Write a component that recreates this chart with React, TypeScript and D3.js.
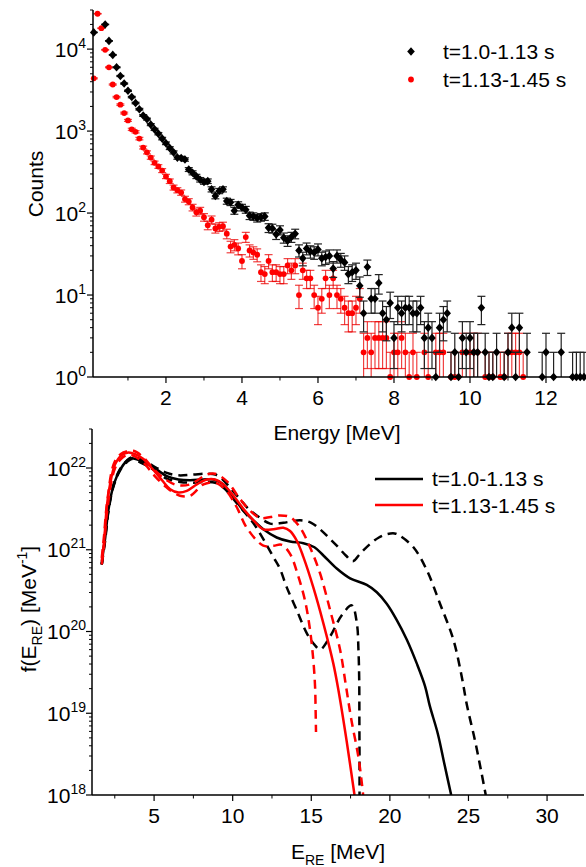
import React from 'react';
import * as d3 from 'd3';

// ---------------- DATA ----------------
const energyBins = [
  0.1, 0.2, 0.3, 0.4, 0.5, 0.6, 0.7, 0.8, 0.9, 1.0,
  1.1, 1.2, 1.3, 1.4, 1.5, 1.6, 1.7, 1.8, 1.9, 2.0,
  2.1, 2.2, 2.3, 2.4, 2.5, 2.6, 2.7, 2.8, 2.9, 3.0,
  3.1, 3.2, 3.3, 3.4, 3.5, 3.6, 3.7, 3.8, 3.9, 4.0,
  4.1, 4.2, 4.3, 4.4, 4.5, 4.6, 4.7, 4.8, 4.9, 5.0,
  5.1, 5.2, 5.3, 5.4, 5.5, 5.6, 5.7, 5.8, 5.9, 6.0,
  6.1, 6.2, 6.3, 6.4, 6.5, 6.6, 6.7, 6.8, 6.9, 7.0,
  7.1, 7.2, 7.3, 7.4, 7.5, 7.6, 7.7, 7.8, 7.9, 8.0,
  8.1, 8.2, 8.3, 8.4, 8.5, 8.6, 8.7, 8.8, 8.9, 9.0,
  9.1, 9.2, 9.3, 9.4, 9.5, 9.6, 9.7, 9.8, 9.9, 10.0,
  10.1, 10.2, 10.3, 10.4, 10.5, 10.6, 10.7, 10.8, 10.9, 11.0,
  11.1, 11.2, 11.3, 11.4, 11.5, 11.6, 11.7, 11.8, 11.9, 12.0,
  12.1, 12.2, 12.3, 12.4, 12.5, 12.6, 12.7, 12.8, 12.9, 13.0,
];

// counts, t = 1.0-1.13 s (null = not shown)
const countsEarly: (number | null)[] = [
  16000, null, null, 20000, 12600, 8500, 6000, 4700, 3800, 3100,
  2600, 2200, 1850, 1550, 1400, 1200, 1050, 930, 810, 710,
  620, 550, 475, 470, 450, 340, 310, 280, 255, 240,
  245, 195, 162, 186, 195, 140, 135, 107, 126, 117,
  110, 93, 91, 87, 89, 91, 66, 65, 55, 62,
  50, 46, 51, 56, 35, 28, 37, 34, 33, 36,
  28, 29, 30, 21, 30, 27, 25, 18, 19, 20,
  13, 6, 22, 9, 9, 14, 6, 5, 8, 3,
  7, 6, 7, 7, 6, 6, 7, 3, 4, 3,
  1, 4, 5, 6, 1, 2, 1, 3, 2, 3,
  2, 2, 7, 2, 1, 1, 2, null, 1, 2,
  4, 1, 4, null, 2, null, null, null, 1, 2,
  null, 1, null, 2, null, null, 1, 1, 1, 1,
];

// counts, t = 1.13-1.45 s
const countsLate: (number | null)[] = [
  4400, 27000, 18000, 9800, 6000, 3700, 2600, 2100, 1660, 1350,
  1050, 980, 810, 630, 550, 475, 410, 370, 330, 280,
  245, 205, 190, 178, 148, 138, 117, 102, 107, 89,
  71, 83, 65, 68, 69, 56, 39, 41, 37, 26,
  51, 35, 33, 31, 19, 18, 26, 19, 19, 18,
  18, 23, 20, 23, 10, 20, 16, 16, 10, 7,
  9, 16, 10, 16, 10, 9, 7, 6, 6, 7,
  9, 2, 3, 2, 3, 3, 3, 3, 1, 2,
  2, 3, 2, 1, 2, 1, null, 2, 1, null,
  2, 2, 2, null, 1, 1, null, 2, null, 2,
  2, 2, null, 1, 1, 1, null, 1, 1, 2,
  2, 2, 2, 1, null, null, null, null, null, null,
  null, null, null, null, null, null, null, null, null, null,
];

const legendLabels = ['t=1.0-1.13 s', 't=1.13-1.45 s'];
const topXTicks = [2, 4, 6, 8, 10, 12];
const topXMinor = [1, 3, 5, 7, 9, 11];
const topYDecades = [0, 1, 2, 3, 4];
const bottomXTicks = [5, 10, 15, 20, 25, 30];
const bottomXMinor = [2.5, 7.5, 12.5, 17.5, 22.5, 27.5];
const bottomYDecades = [18, 19, 20, 21, 22];

// bottom panel: [E (MeV), log10 f(E)]
const earlyFit: [number, number][] = [
  [1.67, 20.82], [1.78, 21.0], [1.88, 21.13], [2.09, 21.48], [2.41, 21.78], [2.84, 21.98],
  [3.26, 22.085], [3.58, 22.12], [4.11, 22.09], [4.64, 22.04], [5.17, 21.98], [5.81, 21.9],
  [6.55, 21.86], [7.29, 21.85], [8.14, 21.86], [8.77, 21.86], [9.41, 21.8], [10.05, 21.64],
  [10.68, 21.48], [11.32, 21.36], [11.95, 21.25], [12.8, 21.15], [13.65, 21.1], [14.5, 21.08],
  [15.2, 21.03], [15.77, 20.93], [16.62, 20.77], [17.47, 20.65], [18.53, 20.57], [19.17, 20.48],
  [19.8, 20.34], [20.44, 20.14], [21.08, 19.9], [21.71, 19.61], [22.24, 19.33], [22.54, 19.09],
  [23.05, 18.75], [23.49, 18.36], [23.9, 18.0],
];
const earlyUpper: [number, number][] = [
  [1.67, 20.82], [1.88, 21.14], [2.09, 21.49], [2.41, 21.79], [2.84, 21.99], [3.26, 22.09],
  [3.58, 22.13], [4.11, 22.11], [4.64, 22.06], [5.17, 22.0], [5.81, 21.94], [6.55, 21.91],
  [7.5, 21.92], [8.35, 21.93], [8.9, 21.92], [9.41, 21.85], [10.0, 21.72], [10.47, 21.62],
  [11.0, 21.5], [11.53, 21.42], [12.38, 21.32], [13.22, 21.33], [14.29, 21.36], [15.0, 21.33],
  [15.56, 21.25], [16.1, 21.15], [16.62, 21.05], [17.2, 20.93], [17.65, 20.86], [18.1, 20.95],
  [18.74, 21.07], [19.3, 21.15], [19.8, 21.19], [20.3, 21.2], [20.65, 21.17], [21.5, 21.03],
  [22.35, 20.75], [23.19, 20.34], [24.04, 19.9], [24.57, 19.45], [24.9, 19.1], [25.4, 18.68],
  [25.8, 18.3], [26.1, 18.0],
];
const earlyLower: [number, number][] = [
  [1.67, 20.82], [1.88, 21.1], [2.09, 21.46], [2.41, 21.77], [2.84, 21.97], [3.26, 22.07],
  [3.58, 22.11], [4.11, 22.07], [4.64, 22.02], [5.17, 21.95], [5.81, 21.87], [6.65, 21.83],
  [7.5, 21.82], [8.35, 21.83], [8.9, 21.82], [9.41, 21.76], [10.3, 21.56], [11.3, 21.33],
  [11.95, 21.13], [12.59, 20.91], [13.0, 20.77], [13.44, 20.54], [14.08, 20.26], [14.71, 19.98],
  [15.2, 19.84], [15.56, 19.78], [16.2, 19.94], [16.94, 20.2], [17.58, 20.32], [17.9, 20.1],
  [18.0, 19.78], [18.05, 19.4], [18.06, 18.9], [18.07, 18.4], [18.07, 18.0],
];
const lateFit: [number, number][] = [
  [1.67, 20.86], [1.82, 21.11], [1.99, 21.52], [2.2, 21.8], [2.52, 22.045], [2.95, 22.16],
  [3.37, 22.19], [3.79, 22.17], [4.32, 22.11], [4.85, 22.0], [5.38, 21.88], [6.02, 21.74],
  [6.55, 21.7], [7.08, 21.72], [7.72, 21.8], [8.35, 21.86], [8.88, 21.86], [9.41, 21.8],
  [10.05, 21.66], [10.68, 21.5], [11.32, 21.36], [11.95, 21.25], [12.59, 21.25], [13.22, 21.27],
  [13.65, 21.23], [14.08, 21.11], [14.5, 20.91], [15.13, 20.54], [15.77, 20.1], [16.4, 19.61],
  [16.72, 19.29], [17.25, 18.66], [17.75, 18.0],
];
const lateUpper: [number, number][] = [
  [1.67, 20.9], [1.82, 21.18], [2.0, 21.56], [2.5, 22.08], [3.05, 22.19], [3.68, 22.21],
  [4.32, 22.13], [5.0, 21.98], [5.8, 21.85], [6.5, 21.79], [7.29, 21.8], [8.35, 21.92],
  [8.88, 21.93], [9.62, 21.84], [10.47, 21.62], [11.1, 21.48], [11.74, 21.39], [12.4, 21.4],
  [13.01, 21.42], [13.65, 21.4], [14.29, 21.27], [14.92, 21.03], [15.56, 20.71], [16.2, 20.26],
  [16.83, 19.78], [17.21, 19.33], [17.55, 18.92], [18.02, 18.44], [18.3, 18.0],
];
const lateLower: [number, number][] = [
  [1.67, 20.82], [1.82, 21.05], [2.0, 21.45], [2.5, 21.99], [3.0, 22.13], [3.5, 22.16],
  [4.3, 22.07], [5.0, 21.91], [5.81, 21.76], [6.65, 21.66], [7.29, 21.66], [8.14, 21.8],
  [8.9, 21.82], [9.6, 21.72], [10.26, 21.52], [10.89, 21.27], [11.95, 21.05], [12.6, 21.05],
  [13.12, 21.06], [13.65, 20.95], [14.18, 20.67], [14.6, 20.38], [14.92, 20.02], [15.13, 19.65],
  [15.24, 19.33], [15.28, 19.0], [15.3, 18.77],
];

// ---------------- LAYOUT ----------------
const W = 586;
const H = 867;
const FONT = "'Liberation Sans', Arial, sans-serif";
const TOP = { left: 93, right: 584, top: 10, bottom: 377 };
const BOT = { left: 92, right: 584, top: 429, bottom: 795 };

const xTop = d3.scaleLinear().domain([0.08, 13]).range([TOP.left, TOP.right]);
const yTop = d3.scaleLog().domain([1, 3e4]).range([TOP.bottom, TOP.top]);
const xBot = d3.scaleLinear().domain([1.05, 32.35]).range([BOT.left, BOT.right]);
const yBot = d3.scaleLog().domain([1e18, 3e22]).range([BOT.bottom, BOT.top]);

function Pow10Label({ x, y, exp }: { x: number; y: number; exp: number }) {
  return (
    <text x={x} y={y + 7.5} textAnchor="end" fontSize={21} fontFamily={FONT} fill="#000">
      <tspan>10</tspan>
      <tspan dy={-9} fontSize={14}>{exp}</tspan>
    </text>
  );
}

function ErrorSeries({ counts, color, barColor, shape }: {
  counts: (number | null)[]; color: string; barColor: string; shape: 'diamond' | 'circle';
}) {
  const items: any[] = [];
  counts.forEach((c, i) => {
    if (c === null) return;
    const cx = xTop(energyBins[i]);
    const err = Math.sqrt(c);
    const lo = Math.max(c - err, 1);
    const hi = c + err;
    const yLo = yTop(lo);
    const yHi = yTop(hi);
    items.push(
      <g key={i}>
        <line x1={cx} x2={cx} y1={yLo} y2={yHi} stroke={barColor} strokeWidth={1.2} />
        <line x1={cx - 4} x2={cx + 4} y1={yHi} y2={yHi} stroke={barColor} strokeWidth={1.2} />
        {c - err >= 1 && (
          <line x1={cx - 4} x2={cx + 4} y1={yLo} y2={yLo} stroke={barColor} strokeWidth={1.2} />
        )}
      </g>
    );
  });
  const marks: any[] = [];
  counts.forEach((c, i) => {
    if (c === null) return;
    const cx = xTop(energyBins[i]);
    const cy = yTop(c);
    marks.push(
      shape === 'diamond' ? (
        <path key={'m' + i} d={`M${cx},${cy - 4.3}L${cx + 3.8},${cy}L${cx},${cy + 4.3}L${cx - 3.8},${cy}Z`} fill={color} />
      ) : (
        <circle key={'m' + i} cx={cx} cy={cy} r={2.9} fill={color} />
      )
    );
  });
  return (
    <g>
      <g clipPath="url(#clipTop)">{items}</g>
      {marks}
    </g>
  );
}

const lineGen = d3
  .line<[number, number]>()
  .x((d) => xBot(d[0]))
  .y((d) => yBot(Math.pow(10, d[1])))
  .curve(d3.curveCatmullRom.alpha(0.5));

export default function App() {
  const topMinor: number[] = [];
  for (let k = 0; k <= 4; k++) for (let m = 2; m <= 9; m++) {
    const v = m * Math.pow(10, k);
    if (v <= 3e4) topMinor.push(v);
  }
  const botMinor: number[] = [];
  for (let k = 18; k <= 22; k++) for (let m = 2; m <= 9; m++) {
    const v = m * Math.pow(10, k);
    if (v <= 3e22) botMinor.push(v);
  }

  const curves = [
    { d: earlyFit, color: '#000', dash: undefined },
    { d: earlyUpper, color: '#000', dash: '9,6' },
    { d: earlyLower, color: '#000', dash: '9,6' },
    { d: lateFit, color: '#ff0000', dash: undefined },
    { d: lateUpper, color: '#ff0000', dash: '9,6' },
    { d: lateLower, color: '#ff0000', dash: '9,6' },
  ];

  return (
    <svg width={W} height={H} viewBox={`0 0 ${W} ${H}`} style={{ position: 'absolute', left: 0, top: 0, background: '#fff' }}>
      <defs>
        <clipPath id="clipTop">
          <rect x={TOP.left} y={TOP.top} width={TOP.right - TOP.left + 4} height={TOP.bottom - TOP.top} />
        </clipPath>
        <clipPath id="clipBot">
          <rect x={BOT.left} y={BOT.top} width={BOT.right - BOT.left} height={BOT.bottom - BOT.top} />
        </clipPath>
      </defs>
      <rect x={0} y={0} width={W} height={H} fill="#fff" />

      {/* ---------- TOP PANEL ---------- */}
      <ErrorSeries counts={countsLate} color="#ff0000" barColor="rgba(235,0,0,0.75)" shape="circle" />
      <ErrorSeries counts={countsEarly} color="#000" barColor="#222" shape="diamond" />

      <line x1={TOP.left} x2={TOP.left} y1={TOP.top} y2={TOP.bottom} stroke="#000" strokeWidth={1.5} />
      <line x1={TOP.left} x2={TOP.right} y1={TOP.bottom} y2={TOP.bottom} stroke="#000" strokeWidth={1.5} />
      {topYDecades.map((k) => (
        <g key={'ty' + k}>
          <line x1={TOP.left - 6} x2={TOP.left} y1={yTop(Math.pow(10, k))} y2={yTop(Math.pow(10, k))} stroke="#000" strokeWidth={1.2} />
          <Pow10Label x={86} y={yTop(Math.pow(10, k))} exp={k} />
        </g>
      ))}
      {topMinor.map((v, i) => (
        <line key={'tym' + i} x1={TOP.left - 3} x2={TOP.left} y1={yTop(v)} y2={yTop(v)} stroke="#000" strokeWidth={1} />
      ))}
      {topXTicks.map((t) => (
        <g key={'tx' + t}>
          <line x1={xTop(t)} x2={xTop(t)} y1={TOP.bottom} y2={TOP.bottom + 6} stroke="#000" strokeWidth={1.2} />
          <text x={xTop(t)} y={405} textAnchor="middle" fontSize={21} fontFamily={FONT}>{t}</text>
        </g>
      ))}
      {topXMinor.map((t) => (
        <line key={'txm' + t} x1={xTop(t)} x2={xTop(t)} y1={TOP.bottom} y2={TOP.bottom + 3.5} stroke="#000" strokeWidth={1} />
      ))}
      <text x={337} y={440} textAnchor="middle" fontSize={21} fontFamily={FONT}>Energy [MeV]</text>
      <text transform={`translate(43,184) rotate(-90)`} textAnchor="middle" fontSize={21} fontFamily={FONT}>Counts</text>

      {/* top legend */}
      <path d={`M411,47.3L414.8,51.5L411,55.7L407.2,51.5Z`} fill="#000" />
      <text x={443} y={59} fontSize={21} fontFamily={FONT}>{legendLabels[0]}</text>
      <circle cx={411} cy={79.5} r={2.9} fill="#ff0000" />
      <text x={443} y={87} fontSize={21} fontFamily={FONT}>{legendLabels[1]}</text>

      {/* ---------- BOTTOM PANEL ---------- */}
      <g clipPath="url(#clipBot)">
        {curves.map((c, i) => (
          <path key={'c' + i} d={lineGen(c.d) || ''} fill="none" stroke={c.color} strokeWidth={2.5} strokeDasharray={c.dash} />
        ))}
      </g>
      <line x1={BOT.left} x2={BOT.left} y1={BOT.top} y2={BOT.bottom} stroke="#000" strokeWidth={1.5} />
      <line x1={BOT.left} x2={BOT.right} y1={BOT.bottom} y2={BOT.bottom} stroke="#000" strokeWidth={1.5} />
      {bottomYDecades.map((k) => (
        <g key={'by' + k}>
          <line x1={BOT.left - 6} x2={BOT.left} y1={yBot(Math.pow(10, k))} y2={yBot(Math.pow(10, k))} stroke="#000" strokeWidth={1.2} />
          <Pow10Label x={86} y={yBot(Math.pow(10, k))} exp={k} />
        </g>
      ))}
      {botMinor.map((v, i) => (
        <line key={'bym' + i} x1={BOT.left - 3} x2={BOT.left} y1={yBot(v)} y2={yBot(v)} stroke="#000" strokeWidth={1} />
      ))}
      {bottomXTicks.map((t) => (
        <g key={'bx' + t}>
          <line x1={xBot(t)} x2={xBot(t)} y1={BOT.bottom} y2={BOT.bottom + 6} stroke="#000" strokeWidth={1.2} />
          <text x={xBot(t)} y={823} textAnchor="middle" fontSize={21} fontFamily={FONT}>{t}</text>
        </g>
      ))}
      {bottomXMinor.map((t) => (
        <line key={'bxm' + t} x1={xBot(t)} x2={xBot(t)} y1={BOT.bottom} y2={BOT.bottom + 3.5} stroke="#000" strokeWidth={1} />
      ))}
      <text x={338} y={859} textAnchor="middle" fontSize={21} fontFamily={FONT}>
        <tspan>E</tspan>
        <tspan dy={6} fontSize={14}>RE</tspan>
        <tspan dy={-6}> [MeV]</tspan>
      </text>
      <text transform={`translate(36,609) rotate(-90)`} textAnchor="middle" fontSize={21} fontFamily={FONT}>
        <tspan>f(E</tspan>
        <tspan dy={6} fontSize={14}>RE</tspan>
        <tspan dy={-6}>) [MeV</tspan>
        <tspan dy={-9} fontSize={14}>-1</tspan>
        <tspan dy={9}>]</tspan>
      </text>

      {/* bottom legend */}
      <line x1={375} x2={423} y1={479} y2={479} stroke="#000" strokeWidth={2.5} />
      <text x={432} y={486} fontSize={21} fontFamily={FONT}>{legendLabels[0]}</text>
      <line x1={375} x2={423} y1={505} y2={505} stroke="#ff0000" strokeWidth={2.5} />
      <text x={432} y={513} fontSize={21} fontFamily={FONT}>{legendLabels[1]}</text>
    </svg>
  );
}
